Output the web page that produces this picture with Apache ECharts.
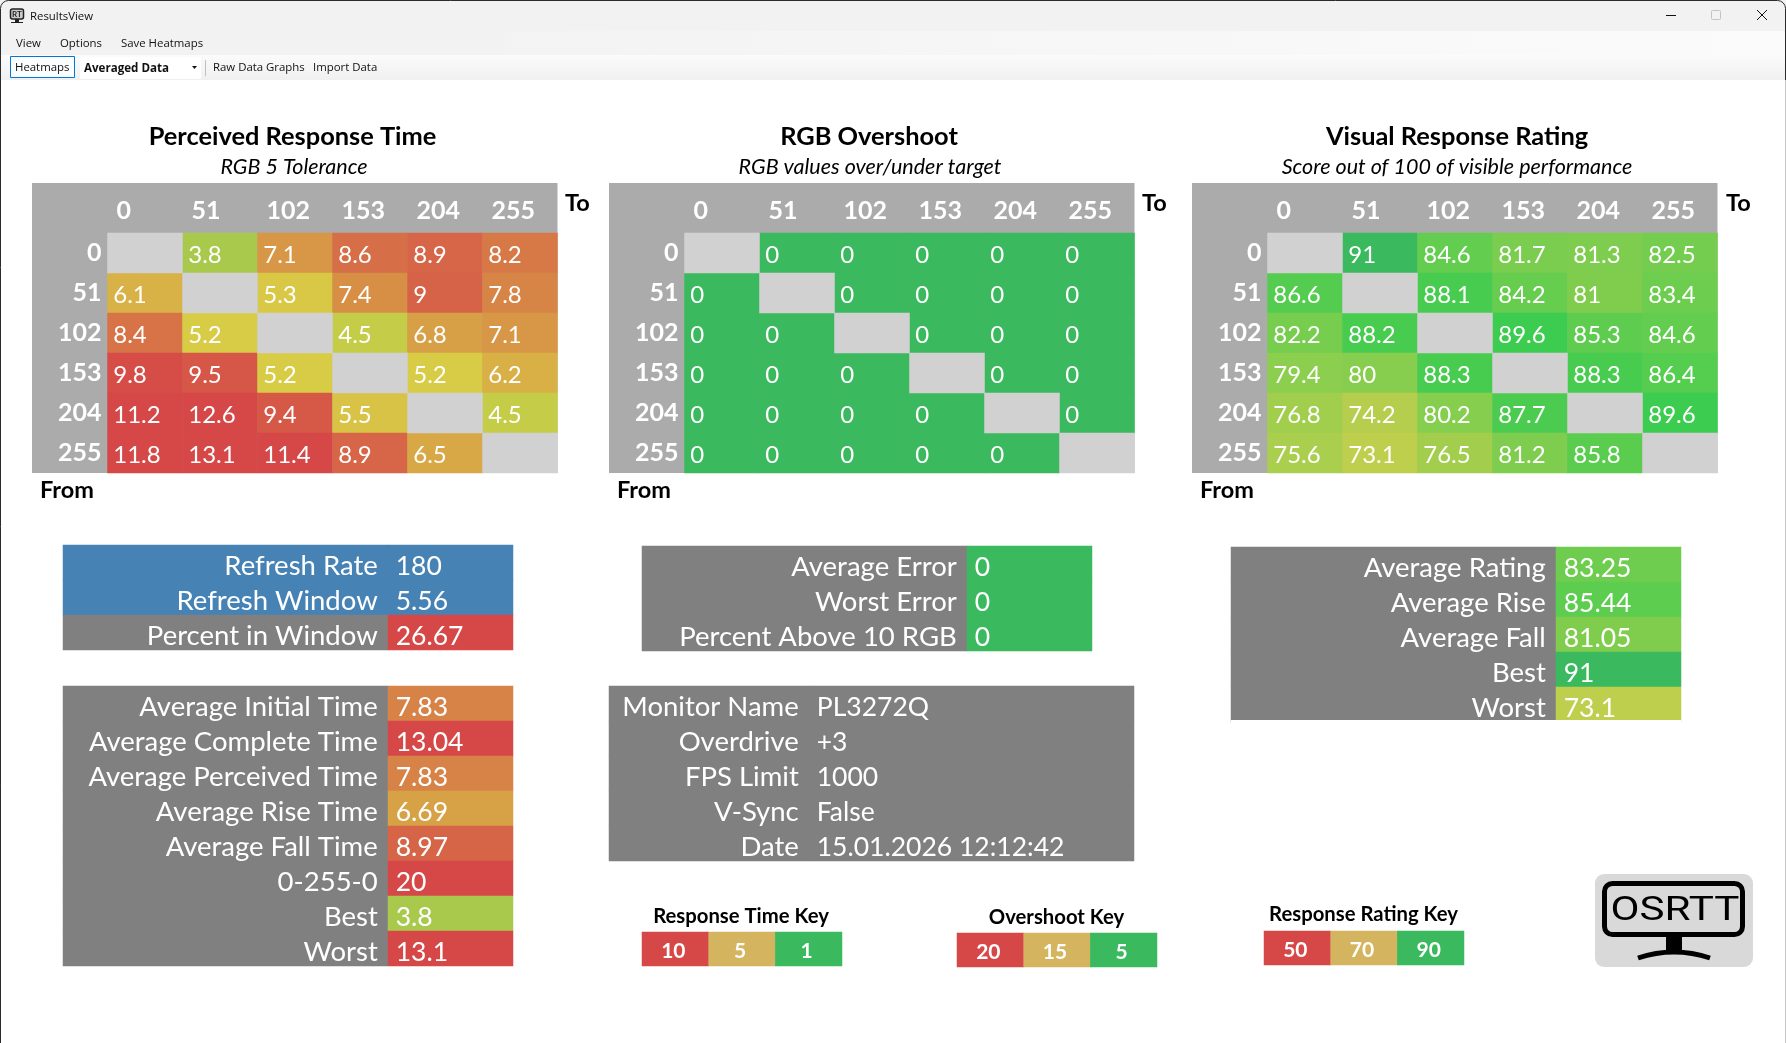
<!DOCTYPE html>
<html>
<head>
<meta charset="utf-8">
<title>ResultsView</title>
<script src="https://cdn.jsdelivr.net/npm/echarts@6/dist/echarts.min.js"></script>
<style>html,body{margin:0;padding:0;background:#fff}#c{width:1786px;height:1043px}</style>
</head>
<body>
<div id="c"></div>
<script>
// ---------- data ----------
const levels = ['0', '51', '102', '153', '204', '255'];
const responseMatrix = [
  [null, 3.8, 7.1, 8.6, 8.9, 8.2],
  [6.1, null, 5.3, 7.4, 9, 7.8],
  [8.4, 5.2, null, 4.5, 6.8, 7.1],
  [9.8, 9.5, 5.2, null, 5.2, 6.2],
  [11.2, 12.6, 9.4, 5.5, null, 4.5],
  [11.8, 13.1, 11.4, 8.9, 6.5, null]
];
const overshootMatrix = [
  [null, 0, 0, 0, 0, 0],
  [0, null, 0, 0, 0, 0],
  [0, 0, null, 0, 0, 0],
  [0, 0, 0, null, 0, 0],
  [0, 0, 0, 0, null, 0],
  [0, 0, 0, 0, 0, null]
];
const ratingMatrix = [
  [null, 91, 84.6, 81.7, 81.3, 82.5],
  [86.6, null, 88.1, 84.2, 81, 83.4],
  [82.2, 88.2, null, 89.6, 85.3, 84.6],
  [79.4, 80, 88.3, null, 88.3, 86.4],
  [76.8, 74.2, 80.2, 87.7, null, 89.6],
  [75.6, 73.1, 76.5, 81.2, 85.8, null]
];
const refreshLabels = ['Refresh Rate', 'Refresh Window', 'Percent in Window'];
const refreshValues = ['180', '5.56', '26.67'];
const timeLabels = ['Average Initial Time', 'Average Complete Time', 'Average Perceived Time', 'Average Rise Time', 'Average Fall Time', '0-255-0', 'Best', 'Worst'];
const timeValues = [7.83, 13.04, 7.83, 6.69, 8.97, 20, 3.8, 13.1];
const errorLabels = ['Average Error', 'Worst Error', 'Percent Above 10 RGB'];
const errorValues = [0, 0, 0];
const monitorLabels = ['Monitor Name', 'Overdrive', 'FPS Limit', 'V-Sync', 'Date'];
const monitorValues = ['PL3272Q', '+3', '1000', 'False', '15.01.2026 12:12:42'];
const ratingLabels = ['Average Rating', 'Average Rise', 'Average Fall', 'Best', 'Worst'];
const ratingValues = [83.25, 85.44, 81.05, 91, 73.1];
const responseKey = ['10', '5', '1'];
const overshootKey = ['20', '15', '5'];
const ratingKey = ['50', '70', '90'];

// ---------- styling ----------
const FONT = 'Lato';
const UI = '"Open Sans"';
const PALETTE = ['#808080', '#4682b4', '#d1d1d1', '#d64848', '#d4b45f', '#3bb95e'];
const [GREY, BLUE, EMPTY, RED, TAN, GREEN] = [0, 1, 2, 3, 4, 5];

function hex(c) { return [1, 3, 5].map(i => parseInt(c.substr(i, 2), 16)); }
function ramp(min, max, anchors) {
  const out = [];
  for (let v = min; v <= max; v++) {
    let i = 0;
    while (i < anchors.length - 2 && v > anchors[i + 1][0]) i++;
    const [a, ca] = anchors[i], [b, cb] = anchors[i + 1];
    const t = Math.max(0, Math.min(1, (v - a) / (b - a)));
    const A = hex(ca), B = hex(cb);
    out.push('rgb(' + A.map((x, k) => Math.round(x + (B[k] - x) * t)).join(',') + ')');
  }
  return out;
}
const RT_RANGE = [1, 20], OS_RANGE = [0, 20], VR_RANGE = [70, 91];
const rtColors = ramp(RT_RANGE[0], RT_RANGE[1], [[1, '#3bb95e'], [5, '#d8d045'], [10, '#d64848'], [20, '#d64848']]);
const osColors = ramp(OS_RANGE[0], OS_RANGE[1], [[5, '#3bb95e'], [15, '#d4b45f'], [20, '#d64848']]);
const vrColors = ramp(VR_RANGE[0], VR_RANGE[1], [[70, '#d6cf4c'], [90, '#39cc50'], [91, '#3bb95e']]);

const grids = [], xAxes = [], yAxes = [], series = [];
const rtSeries = [], osSeries = [], vrSeries = [], flatSeries = [];

function addGrid(left, top, width, height, xCats, yCats, axisStyle) {
  const g = grids.length;
  grids.push({ left, top, width, height, containLabel: false, show: false });
  const base = { type: 'category', gridIndex: g, axisLine: { show: false }, axisTick: { show: false }, splitLine: { show: false } };
  xAxes.push(Object.assign({}, base, { data: xCats, position: 'top', show: !!axisStyle, axisLabel: axisStyle ? axisStyle.x : {} }));
  yAxes.push(Object.assign({}, base, { data: yCats, inverse: true, show: !!axisStyle, axisLabel: axisStyle ? axisStyle.y : {} }));
  return g;
}
function addCells(g, data, label, group) {
  group.push(series.length);
  series.push({
    type: 'heatmap', xAxisIndex: g, yAxisIndex: g, data, silent: true, animation: false,
    label: Object.assign({ show: true, color: '#fff', fontFamily: FONT, formatter: p => p.data[3] }, label),
    emphasis: { disabled: true }
  });
}
function heatPanel(left, top, matrix, group) {
  const x0 = left + 75.5, y0 = top + 50;
  const g = addGrid(x0, y0, 450, 240, levels, levels, {
    x: { color: '#fff', fontFamily: FONT, fontWeight: 'bold', fontSize: 25, align: 'left', verticalAlign: 'middle', margin: 22, padding: [0, 0, 0, -28.5], interval: 0 },
    y: { color: '#fff', fontFamily: FONT, fontWeight: 'bold', fontSize: 25, margin: 6, interval: 0, verticalAlign: 'middle', padding: [4, 0, 0, 0] }
  });
  const cells = [], empty = [];
  matrix.forEach((row, r) => row.forEach((v, c) => {
    if (v === null) empty.push([c, r, EMPTY, '']);
    else cells.push([c, r, v, String(v)]);
  }));
  addCells(g, cells, { position: 'insideLeft', distance: 6, fontSize: 24, offset: [0, 2.5] }, group);
  addCells(g, empty, { show: false }, flatSeries);
}
function table(left, split, right, top, height, labels, labelColor, values, valueStyle) {
  const rows = labels.map(String);
  const g1 = addGrid(left, top, split - left, height, ['l'], rows);
  addCells(g1, labels.map((t, r) => [0, r, labelColor[r], t]), { position: 'insideRight', distance: 10.5, fontSize: 27.5, offset: [0, 4] }, flatSeries);
  const g2 = addGrid(split, top, right - split, height, ['v'], rows);
  addCells(g2, values.map((v, r) => [0, r, valueStyle.colors ? valueStyle.colors[r] : v, String(v)]), { position: 'insideLeft', distance: 8, fontSize: 26.5, offset: [0, 4] }, valueStyle.group);
}
function keyBar(left, top, width, height, texts) {
  const g = addGrid(left, top, width, height, texts, ['k']);
  addCells(g, texts.map((t, c) => [c, 0, [RED, TAN, GREEN][c], t]), { position: 'inside', fontSize: 21, fontWeight: 'bold', offset: [-2, 2] }, flatSeries);
}

heatPanel(32, 183, responseMatrix, rtSeries);
heatPanel(609, 183, overshootMatrix, osSeries);
heatPanel(1192, 183, ratingMatrix, vrSeries);

table(63, 388, 513, 545, 105, refreshLabels, [BLUE, BLUE, GREY], refreshValues, { colors: [BLUE, BLUE, RED], group: flatSeries });
table(63, 388, 513, 686, 280, timeLabels, timeLabels.map(() => GREY), timeValues, { group: rtSeries });
table(642, 967, 1092, 546, 105, errorLabels, errorLabels.map(() => GREY), errorValues, { group: osSeries });
table(609, 809, 1134, 686, 175, monitorLabels, monitorLabels.map(() => GREY), monitorValues, { colors: monitorValues.map(() => GREY), group: flatSeries });
table(1231, 1556, 1681, 547, 175, ratingLabels, ratingLabels.map(() => GREY), ratingValues, { group: vrSeries });

keyBar(642, 932, 200, 34, responseKey);
keyBar(957, 933, 200, 34, overshootKey);
keyBar(1264, 931, 200, 34, ratingKey);

function vm(type, idx, extra) {
  return Object.assign({ type, show: false, seriesIndex: idx, dimension: 2 }, extra);
}
const visualMap = [
  vm('continuous', rtSeries, { min: RT_RANGE[0], max: RT_RANGE[1], inRange: { color: rtColors } }),
  vm('continuous', osSeries, { min: OS_RANGE[0], max: OS_RANGE[1], inRange: { color: osColors } }),
  vm('continuous', vrSeries, { min: VR_RANGE[0], max: VR_RANGE[1], inRange: { color: vrColors } }),
  vm('piecewise', flatSeries, { pieces: PALETTE.map((color, value) => ({ value, color })) })
];

// ---------- window chrome, headings, logo ----------
function text(x, y, t, font, fill, align, extra) {
  return Object.assign({ type: 'text', x, y, silent: true, z: 5, style: { text: t, font, fill: fill || '#000', align: align || 'center', verticalAlign: 'middle' } }, extra);
}
function rect(x, y, w, h, fill, extra) {
  return Object.assign({ type: 'rect', silent: true, z: 0, shape: { x, y, width: w, height: h }, style: { fill } }, extra);
}
const heading = 'bold 25.4px ' + FONT, sub = 'italic 21.5px ' + FONT, corner = 'bold 23.5px ' + FONT, keyT = 'bold 20.3px ' + FONT;
const ui = '11.4px ' + UI;
const LG = echarts.graphic.LinearGradient;
const graphic = [
  rect(0, 0, 1786, 31, '#f2f2f2'),
  { type: 'rect', silent: true, z: 0, shape: { x: 505, y: 31, width: 1281, height: 24 }, style: { fill: new LG(0, 0, 1, 0, [{ offset: 0, color: '#f3f3f3' }, { offset: 1, color: '#fbfbfb' }]) } },
  rect(0, 31, 505, 24, '#f2f2f2'),
  { type: 'rect', silent: true, z: 0, shape: { x: 0, y: 55, width: 1786, height: 25 }, style: { fill: new LG(0, 0, 0, 1, [{ offset: 0, color: '#fbfbfb' }, { offset: 1, color: '#f0f0f0' }]) } },
  { type: 'rect', silent: true, z: 1, shape: { x: 0.5, y: 0.5, width: 1785, height: 1100, r: 8 }, style: { fill: 'none', stroke: '#2b2b2b', lineWidth: 1 } },
  rect(1785, 80, 1, 963, '#c8c8c8', { z: 2 }),
  // panels behind heatmaps
  rect(32, 183, 525.5, 290, '#ababab'),
  rect(609, 183, 525.5, 290, '#ababab'),
  rect(1192, 183, 525.5, 290, '#ababab'),
  // rating table is trimmed at its bottom edge
  rect(1231, 720, 450, 3, '#ffffff', { z: 3 }),
  // app icon
  { type: 'rect', silent: true, z: 5, shape: { x: 10.5, y: 9, width: 13, height: 10, r: 2 }, style: { fill: '#ccc', stroke: '#222', lineWidth: 1.5 } },
  text(17, 14.5, 'RT', 'bold 8px ' + FONT, '#222'),
  rect(15, 19, 4, 3, '#222', { z: 5 }),
  rect(11, 22, 12, 1, '#222', { z: 5 }),
  text(30, 17, 'ResultsView', ui, '#111', 'left'),
  text(16, 44, 'View', ui, '#111', 'left'),
  text(60, 44, 'Options', ui, '#111', 'left'),
  text(121, 44, 'Save Heatmaps', ui, '#111', 'left'),
  { type: 'rect', silent: true, z: 1, shape: { x: 10.5, y: 56.5, width: 64, height: 21 }, style: { fill: '#fbfdff', stroke: '#0078d7', lineWidth: 1 } },
  text(15, 68, 'Heatmaps', ui, '#111', 'left'),
  rect(80, 57, 121, 22, '#ffffff', { z: 1 }),
  text(84, 68.5, 'Averaged Data', 'bold 11.6px ' + UI, '#111', 'left'),
  { type: 'polygon', silent: true, z: 5, shape: { points: [[192, 66], [197, 66], [194.5, 69]] }, style: { fill: '#111' } },
  rect(205, 60, 1, 16, '#c0c0c0', { z: 1 }),
  text(213, 68, 'Raw Data Graphs', ui, '#111', 'left'),
  text(313, 68, 'Import Data', ui, '#111', 'left'),
  // window buttons
  rect(1666, 15, 10, 1, '#111', { z: 5 }),
  { type: 'rect', silent: true, z: 5, shape: { x: 1711.5, y: 10.5, width: 9, height: 9, r: 1 }, style: { fill: 'none', stroke: '#c4c4c4', lineWidth: 1 } },
  { type: 'line', silent: true, z: 5, shape: { x1: 1757, y1: 10, x2: 1767, y2: 20 }, style: { stroke: '#111', lineWidth: 1 } },
  { type: 'line', silent: true, z: 5, shape: { x1: 1767, y1: 10, x2: 1757, y2: 20 }, style: { stroke: '#111', lineWidth: 1 } },
  // headings
  text(292.5, 137, 'Perceived Response Time', heading),
  text(294, 167, 'RGB 5 Tolerance', sub),
  text(869, 137, 'RGB Overshoot', heading),
  text(870, 167, 'RGB values over/under target', sub),
  text(1457, 137, 'Visual Response Rating', heading),
  text(1457, 167, 'Score out of 100 of visible performance', sub),
  text(565, 203, 'To', corner, '#000', 'left'),
  text(40, 490, 'From', corner, '#000', 'left'),
  text(1142, 203, 'To', corner, '#000', 'left'),
  text(617, 490, 'From', corner, '#000', 'left'),
  text(1726, 203, 'To', corner, '#000', 'left'),
  text(1200, 490, 'From', corner, '#000', 'left'),
  text(741, 916, 'Response Time Key', keyT),
  text(1056.5, 917, 'Overshoot Key', keyT),
  text(1363.5, 914, 'Response Rating Key', keyT),
  // logo
  { type: 'rect', silent: true, z: 1, shape: { x: 1595, y: 874, width: 158, height: 93, r: 9 }, style: { fill: '#d9d9d9' } },
  { type: 'rect', silent: true, z: 5, shape: { x: 1604.5, y: 883.5, width: 138, height: 51, r: 8 }, style: { fill: 'none', stroke: '#000', lineWidth: 5 } },
  rect(1666, 937, 16, 16, '#000', { z: 5 }),
  { type: 'bezierCurve', silent: true, z: 5, shape: { x1: 1638, y1: 958, x2: 1710, y2: 958, cpx1: 1674, cpy1: 946 }, style: { fill: 'none', stroke: '#000', lineWidth: 5 } },
  text(0, 0, 'OSRTT', '34px Roboto', '#000', 'center', { x: 1675, y: 911, scaleX: 1.24 })
];

const chart = echarts.init(document.getElementById('c'), null, { renderer: 'canvas' });
chart.setOption({
  animation: false,
  backgroundColor: '#ffffff',
  tooltip: { show: false },
  grid: grids,
  xAxis: xAxes,
  yAxis: yAxes,
  visualMap,
  series,
  graphic
});
</script>
</body>
</html>
